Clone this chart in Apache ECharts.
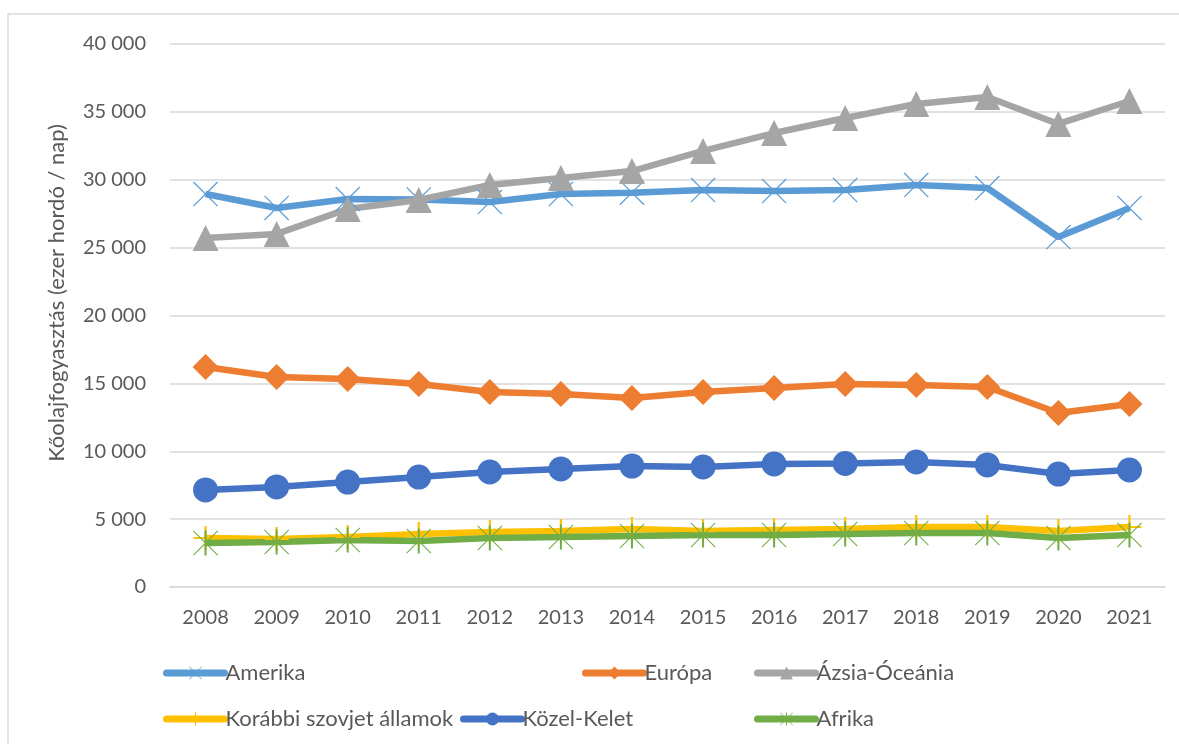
<!DOCTYPE html>
<html>
<head>
    <meta charset="utf-8">
    <title>Kőolajfogyasztás</title>
    <script src="https://cdn.jsdelivr.net/npm/echarts@6/dist/echarts.min.js"></script>
    <style>
        html, body { margin: 0; padding: 0; background: #fff; }
    </style>
</head>
<body>
    <div id="chart" style="width: 1179px;height:744px;"></div>
    <script type="text/javascript">
        var years = ['2008', '2009', '2010', '2011', '2012', '2013', '2014', '2015', '2016', '2017', '2018', '2019', '2020', '2021'];
        var amerika = [28950, 27920, 28580, 28550, 28360, 28950, 29050, 29240, 29170, 29240, 29610, 29390, 25780, 27920];
        var europa = [16200, 15470, 15320, 14950, 14360, 14220, 13920, 14360, 14660, 14950, 14880, 14730, 12820, 13480];
        var azsia = [25710, 26000, 27850, 28510, 29610, 30130, 30640, 32120, 33440, 34550, 35580, 36100, 34110, 35800];
        var szovjet = [3610, 3540, 3680, 3900, 4050, 4120, 4270, 4120, 4200, 4270, 4420, 4420, 4120, 4420];
        var kozelKelet = [7150, 7370, 7730, 8100, 8470, 8690, 8910, 8840, 9060, 9100, 9210, 8990, 8320, 8620];
        var afrika = [3240, 3310, 3460, 3390, 3610, 3680, 3760, 3830, 3830, 3900, 3980, 3980, 3610, 3830];

        // marker shapes (thin filled strokes)
        var plusPath = 'path://M-0.9,-10 L0.9,-10 L0.9,-0.9 L10,-0.9 L10,0.9 L0.9,0.9 L0.9,10 L-0.9,10 L-0.9,0.9 L-10,0.9 L-10,-0.9 L-0.9,-0.9 Z';
        var xPath = 'path://M-9.3,-10 L10,9.3 L9.3,10 L-10,-9.3 Z ' +
            'M9.3,-10 L10,-9.3 L-9.3,10 L-10,9.3 Z';
        var starPath = 'path://M-0.8,-10 L0.8,-10 L0.8,10 L-0.8,10 Z ' +
            'M-9.4,-10 L10,9.4 L9.4,10 L-10,-9.4 Z ' +
            'M9.4,-10 L10,-9.4 L-9.4,10 L-10,9.4 Z';

        var font = 'Lato, "Open Sans", sans-serif';

        function line(name, data, color, symbol, size) {
            return {
                name: name,
                type: 'line',
                data: data,
                color: color,
                symbol: symbol,
                symbolSize: size,
                lineStyle: { color: color, width: 6.5 },
                itemStyle: { color: color },
                emphasis: { disabled: true },
                animation: false
            };
        }

        function leg(name, left, top) {
            return {
                data: [name],
                left: left,
                top: top,
                itemWidth: 58,
                itemHeight: 16,
                itemGap: 0,
                lineStyle: { width: 7, cap: 'round' },
                textStyle: { fontFamily: font, fontSize: 22, color: '#595959', padding: [0, 0, 0, -4] }
            };
        }

        var myChart = echarts.init(document.getElementById('chart'));
        var option = {
            backgroundColor: '#fff',
            graphic: [{
                type: 'rect',
                shape: { x: 8, y: 14, width: 1300, height: 900 },
                style: { fill: 'none', stroke: '#D9D9D9', lineWidth: 1.5 },
                silent: true
            }, {
                type: 'text',
                x: 57,
                y: 293,
                rotation: Math.PI / 2,
                style: {
                    text: 'Kőolajfogyasztás (ezer hordó / nap)',
                    fill: '#595959',
                    font: '22px ' + font,
                    align: 'center',
                    verticalAlign: 'middle'
                },
                silent: true
            }],
            grid: { left: 170, right: 14, top: 44, bottom: 157 },
            legend: [
                leg('Amerika', 158, 657),
                leg('Európa', 577, 657),
                leg('Ázsia-Óceánia', 749, 657),
                leg('Korábbi szovjet államok', 158, 703),
                leg('Közel-Kelet', 455, 703),
                leg('Afrika', 749, 703)
            ],
            xAxis: {
                type: 'category',
                data: years,
                boundaryGap: true,
                axisLine: { lineStyle: { color: '#D9D9D9', width: 1.5 } },
                axisTick: { show: false },
                axisLabel: { color: '#595959', fontSize: 20, fontFamily: font, margin: 21 }
            },
            yAxis: {
                type: 'value',
                min: 0,
                max: 40000,
                interval: 5000,
                axisLine: { show: false },
                axisTick: { show: false },
                splitLine: { lineStyle: { color: '#D9D9D9', width: 1.5 } },
                axisLabel: {
                    color: '#595959', fontSize: 20, fontFamily: font, margin: 24,
                    formatter: function (v) {
                        return String(v).replace(/\B(?=(\d{3})+(?!\d))/g, ' ');
                    }
                }
            },
            series: [
                line('Amerika', amerika, '#5B9BD5', xPath, 25),
                line('Európa', europa, '#ED7D31', 'diamond', 26),
                line('Ázsia-Óceánia', azsia, '#A5A5A5', 'triangle', 26),
                line('Korábbi szovjet államok', szovjet, '#FFC000', plusPath, 24),
                line('Közel-Kelet', kozelKelet, '#4472C4', 'circle', 25),
                line('Afrika', afrika, '#70AD47', starPath, 25)
            ]
        };
        myChart.setOption(option);
    </script>
</body>
</html>
